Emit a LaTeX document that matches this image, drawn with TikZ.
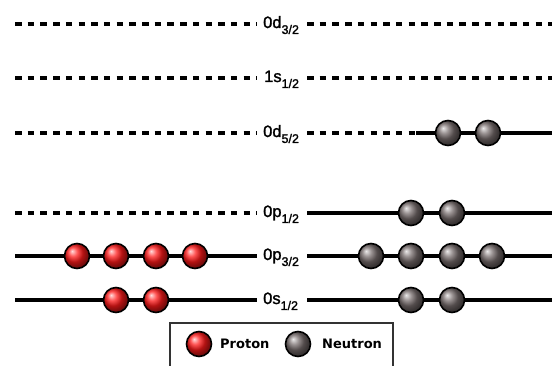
\documentclass[tikz,border=0pt]{standalone}
\usepackage{fontspec}
\setmainfont{Liberation Sans}
\newfontfamily\orbfont{Liberation Sans}[FakeBold=1.6]
\newfontfamily\legendfont{DejaVu Sans}
\usetikzlibrary{calc}

% orbital label: number, letter, j as a lowered subscript
\newcommand\orblabel[3]{#1#2\raisebox{-0.36em}{\fontsize{12.5}{12.5}\selectfont #3}}

\tikzset{
  level/.style={line width=3.2pt},
  emptylevel/.style={line width=3.8pt, dash pattern=on 6.5pt off 6.2pt},
  pairbar/.style={line width=4.6pt},
  orb/.style={font=\orbfont\fontsize{16.5}{16.5}\selectfont, inner sep=0pt, anchor=base west},
  nucleon/.style={circle, minimum size=25pt, inner sep=0pt, draw=black, line width=1.6pt},
  proton/.style={nucleon, ball color=red!90!white, shading=ball},
  neutron/.style={nucleon, ball color={rgb,255:red,118;green,108;blue,108}, shading=ball},
  legendtext/.style={font=\legendfont\bfseries\fontsize{13}{13}\selectfont, inner sep=0pt, anchor=west},
}

\begin{document}
\begin{tikzpicture}[x=1pt, y=-1pt]
\useasboundingbox (0,0) rectangle (552,366);
\fill[white] (0,0) rectangle (552,366);

% level heights
\def\yA{24}  % 0d3/2
\def\yB{78}  % 1s1/2
\def\yC{133} % 0d5/2
\def\yD{213} % 0p1/2
\def\yE{256} % 0p3/2
\def\yF{300} % 0s1/2

% labels
\node[orb] (dA) at (263,\yA+4) {\orblabel{0}{d}{3/2}};
\node[orb] (sB) at (264,\yB+4) {\orblabel{1}{s}{1/2}};
\node[orb] (dC) at (263,\yC+4) {\orblabel{0}{d}{5/2}};
\node[orb] (pD) at (263,\yD+4) {\orblabel{0}{p}{1/2}};
\node[orb] (pE) at (263,\yE+4) {\orblabel{0}{p}{3/2}};
\node[orb] (sF) at (263,\yF+4) {\orblabel{0}{s}{1/2}};

% end points of the level lines
\foreach \n/\y in {A/\yA,B/\yB,C/\yC,D/\yD,E/\yE,F/\yF}{
  \coordinate (L\n) at (15,\y);
  \coordinate (M\n) at (257,\y);
  \coordinate (N\n) at (307,\y);
  \coordinate (R\n) at (552,\y);
}
\coordinate (KC) at (416,\yC);

% empty (dashed) and filled (solid) levels
\draw[emptylevel] (LA) -- (MA);  \draw[emptylevel] (NA) -- (RA);
\draw[emptylevel] (LB) -- (MB);  \draw[emptylevel] (NB) -- (RB);
\draw[emptylevel] (LC) -- (MC);  \draw[emptylevel] (NC) -- (KC);
\draw[level] (KC) -- (RC);
\draw[emptylevel] (LD) -- (MD);  \draw[level] (ND) -- (RD);
\draw[level] (LE) -- (ME);       \draw[level] (NE) -- (RE);
\draw[level] (LF) -- (MF);       \draw[level] (NF) -- (RF);

% nucleon positions
\coordinate (pe1) at (77,\yE);  \coordinate (pe2) at (116,\yE);
\coordinate (pe3) at (156,\yE); \coordinate (pe4) at (195,\yE);
\coordinate (pf1) at (116,\yF); \coordinate (pf2) at (156,\yF);
\coordinate (nc1) at (448,\yC); \coordinate (nc2) at (488,\yC);
\coordinate (nd1) at (411,\yD); \coordinate (nd2) at (452,\yD);
\coordinate (ne1) at (371,\yE); \coordinate (ne2) at (411,\yE);
\coordinate (ne3) at (452,\yE); \coordinate (ne4) at (492,\yE);
\coordinate (nf1) at (411,\yF); \coordinate (nf2) at (452,\yF);

% heavier bar under each group of occupied states
\foreach \a/\b in {pe1/pe4,pf1/pf2,nc1/nc2,nd1/nd2,ne1/ne4,nf1/nf2}{
  \draw[pairbar] ($(\a)+(-20,0)$) -- ($(\b)+(20,0)$);
}

% protons
\foreach \c in {pe1,pe2,pe3,pe4,pf1,pf2}{
  \node[proton] (P-\c) at (\c) {};
}
% neutrons
\foreach \c in {nc1,nc2,nd1,nd2,ne1,ne2,ne3,ne4,nf1,nf2}{
  \node[neutron] (N-\c) at (\c) {};
}

% legend
\draw[line width=1.2pt, draw=black!80] (170,370) -- (170,323) -- (393,323) -- (393,370);
\node[proton] (legp) at (199,344) {};
\node[legendtext] (legpt) at (220,344) {Proton};
\node[neutron] (legn) at (298,344) {};
\node[legendtext] (legnt) at (322,344) {Neutron};
\end{tikzpicture}
\end{document}
